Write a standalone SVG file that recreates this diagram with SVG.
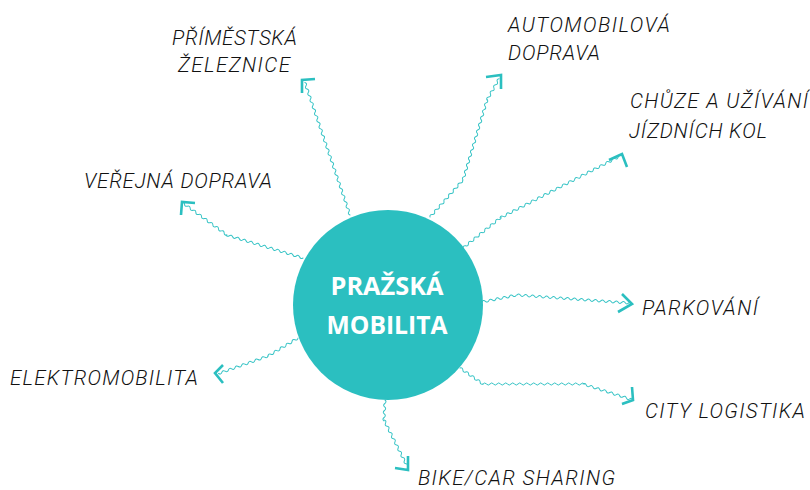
<svg xmlns="http://www.w3.org/2000/svg" width="810" height="490" viewBox="0 0 810 490">
<style>
.w{fill:none;stroke:#35c3c5;stroke-width:1;stroke-linecap:round}
.ah{fill:none;stroke:#2bbfc0;stroke-width:2.6;stroke-linecap:butt;stroke-linejoin:miter}
.lbl{font-family:"Roboto","Open Sans",sans-serif;font-style:italic;font-weight:300;font-size:20.5px;fill:#111111}
.ttl{font-family:"Open Sans","Noto Sans",sans-serif;font-weight:700;font-size:25px;fill:#ffffff;text-anchor:middle}
</style>
<rect width="810" height="490" fill="#ffffff"/>
<g id="connectors">
<path class="w" transform="translate(350,215) rotate(-108.8)" d="M0,0q1.75,-2.2 3.5,0t3.5,0 3.5,0 3.5,0 3.5,0 3.5,0 3.5,0 3.5,0 3.5,0 3.5,0 3.5,0 3.5,0 3.5,0 3.5,0 3.5,0 3.5,0 3.5,0 3.5,0 3.5,0 3.5,0 3.5,0 3.5,0 3.5,0 3.5,0 3.5,0 3.5,0 3.5,0 3.5,0 3.5,0 3.5,0 3.5,0 3.5,0 3.5,0 3.5,0 3.5,0 3.5,0 3.5,0 3.5,0 3.5,0 3.5,0"/>
<polyline class="ah" points="315,79 302,80 302,93"/>
<path class="w" transform="translate(430,217) rotate(-48.3)" d="M0,0q1.75,-2.2 3.5,0t3.5,0 3.5,0 3.5,0 3.5,0 3.5,0 3.5,0 3.5,0 3.5,0 3.5,0 3.5,0 3.5,0 3.5,0 3.5,0"/>
<path class="w" transform="translate(463,180) rotate(-73.3)" d="M0,0q1.75,-2.2 3.5,0t3.5,0 3.5,0 3.5,0 3.5,0 3.5,0 3.5,0 3.5,0 3.5,0 3.5,0 3.5,0 3.5,0 3.5,0 3.5,0 3.5,0 3.5,0 3.5,0 3.5,0 3.5,0 3.5,0 3.5,0 3.5,0 3.5,0 3.5,0"/>
<path class="w" transform="translate(487,100) rotate(-60.5)" d="M0,0q1.75,-2.2 3.5,0t3.5,0 3.5,0 3.5,0 3.5,0 3.5,0 3.5,0"/>
<polyline class="ah" points="486,77 501,75 501,89"/>
<path class="w" transform="translate(463,248) rotate(-39)" d="M0,0q1.75,-2.2 3.5,0t3.5,0 3.5,0 3.5,0 3.5,0 3.5,0 3.5,0 3.5,0 3.5,0 3.5,0 3.5,0 3.5,0 3.5,0 3.5,0"/>
<path class="w" transform="translate(500,218) rotate(-27.3)" d="M0,0q1.75,-2.2 3.5,0t3.5,0 3.5,0 3.5,0 3.5,0 3.5,0 3.5,0 3.5,0 3.5,0 3.5,0 3.5,0 3.5,0 3.5,0 3.5,0 3.5,0 3.5,0 3.5,0 3.5,0 3.5,0 3.5,0 3.5,0 3.5,0 3.5,0 3.5,0 3.5,0 3.5,0 3.5,0 3.5,0 3.5,0 3.5,0 3.5,0 3.5,0 3.5,0 3.5,0 3.5,0 3.5,0 3.5,0 3.5,0 3.5,0"/>
<polyline class="ah" points="609,160 622,154 627,167"/>
<path class="w" transform="translate(482,302) rotate(-11.3)" d="M0,0q1.75,-2.2 3.5,0t3.5,0 3.5,0 3.5,0 3.5,0 3.5,0 3.5,0 3.5,0 3.5,0 3.5,0"/>
<path class="w" transform="translate(517,295) rotate(4.05)" d="M0,0q1.75,-2.2 3.5,0t3.5,0 3.5,0 3.5,0 3.5,0 3.5,0 3.5,0 3.5,0 3.5,0 3.5,0 3.5,0 3.5,0 3.5,0 3.5,0 3.5,0 3.5,0 3.5,0 3.5,0 3.5,0 3.5,0 3.5,0 3.5,0 3.5,0 3.5,0 3.5,0 3.5,0 3.5,0 3.5,0 3.5,0 3.5,0 3.5,0 3.5,0"/>
<polyline class="ah" points="622,294 632,304 618,312"/>
<path class="w" transform="translate(460,368) rotate(34.8)" d="M0,0q1.75,-2.2 3.5,0t3.5,0 3.5,0 3.5,0 3.5,0 3.5,0 3.5,0 3.5,0"/>
<path class="w" transform="translate(483,384) rotate(0)" d="M0,0q1.75,-2.2 3.5,0t3.5,0 3.5,0 3.5,0 3.5,0 3.5,0 3.5,0 3.5,0 3.5,0 3.5,0 3.5,0 3.5,0 3.5,0 3.5,0 3.5,0 3.5,0 3.5,0 3.5,0 3.5,0 3.5,0 3.5,0 3.5,0 3.5,0 3.5,0 3.5,0 3.5,0 3.5,0 3.5,0 3.5,0"/>
<path class="w" transform="translate(583,384) rotate(17.7)" d="M0,0q1.75,-2.2 3.5,0t3.5,0 3.5,0 3.5,0 3.5,0 3.5,0 3.5,0 3.5,0 3.5,0 3.5,0 3.5,0 3.5,0 3.5,0 3.5,0 3.5,0"/>
<polyline class="ah" points="632,387 633,400 622,404"/>
<path class="w" transform="translate(385,400) rotate(92.9)" d="M0,0q1.75,-2.2 3.5,0t3.5,0 3.5,0 3.5,0 3.5,0 3.5,0"/>
<path class="w" transform="translate(384,420) rotate(63.4)" d="M0,0q1.75,-2.2 3.5,0t3.5,0 3.5,0 3.5,0 3.5,0 3.5,0 3.5,0 3.5,0 3.5,0 3.5,0 3.5,0 3.5,0 3.5,0 3.5,0 3.5,0"/>
<polyline class="ah" points="408,456 408,470 395,468"/>
<path class="w" transform="translate(298,338) rotate(149)" d="M0,0q1.75,-2.2 3.5,0t3.5,0 3.5,0 3.5,0 3.5,0 3.5,0 3.5,0 3.5,0 3.5,0 3.5,0"/>
<path class="w" transform="translate(268,356) rotate(160.5)" d="M0,0q1.75,-2.2 3.5,0t3.5,0 3.5,0 3.5,0 3.5,0 3.5,0 3.5,0 3.5,0 3.5,0 3.5,0 3.5,0 3.5,0 3.5,0 3.5,0 3.5,0"/>
<polyline class="ah" points="223,365 215,373 223,383"/>
<path class="w" transform="translate(303,258) rotate(-163.2)" d="M0,0q1.75,-2.2 3.5,0t3.5,0 3.5,0 3.5,0 3.5,0 3.5,0 3.5,0 3.5,0 3.5,0 3.5,0 3.5,0 3.5,0 3.5,0 3.5,0 3.5,0 3.5,0 3.5,0 3.5,0 3.5,0 3.5,0 3.5,0 3.5,0 3.5,0"/>
<path class="w" transform="translate(227,235) rotate(-144)" d="M0,0q1.75,-2.2 3.5,0t3.5,0 3.5,0 3.5,0 3.5,0 3.5,0 3.5,0 3.5,0 3.5,0 3.5,0 3.5,0 3.5,0 3.5,0 3.5,0 3.5,0 3.5,0"/>
<polyline class="ah" points="195,203 182,202 181,215"/>
</g>
<g id="center">
<circle cx="388" cy="305" r="95" fill="#2bbfc0"/>
<text class="ttl" x="387" y="295" textLength="113" lengthAdjust="spacingAndGlyphs">PRAŽSKÁ</text>
<text class="ttl" x="387" y="334" textLength="121" lengthAdjust="spacingAndGlyphs">MOBILITA</text>
</g>
<g id="primestska-zeleznice">
<text class="lbl" x="172" y="45" textLength="125" lengthAdjust="spacing">PŘÍMĚSTSKÁ</text>
<text class="lbl" x="178" y="72" textLength="112" lengthAdjust="spacing">ŽELEZNICE</text>
</g>
<g id="automobilova-doprava">
<text class="lbl" x="508" y="32" textLength="162" lengthAdjust="spacing">AUTOMOBILOVÁ</text>
<text class="lbl" x="508" y="60" textLength="92" lengthAdjust="spacing">DOPRAVA</text>
</g>
<g id="chuze">
<text class="lbl" x="630" y="108" textLength="178" lengthAdjust="spacing">CHŮZE A UŽÍVÁNÍ</text>
<text class="lbl" x="629" y="138" textLength="138" lengthAdjust="spacing">JÍZDNÍCH KOL</text>
</g>
<g id="parkovani">
<text class="lbl" x="642" y="315" textLength="116" lengthAdjust="spacing">PARKOVÁNÍ</text>
</g>
<g id="city-logistika">
<text class="lbl" x="645" y="418" textLength="160" lengthAdjust="spacing">CITY LOGISTIKA</text>
</g>
<g id="bike-car-sharing">
<text class="lbl" x="418" y="485" textLength="197" lengthAdjust="spacing">BIKE/CAR SHARING</text>
</g>
<g id="elektromobilita">
<text class="lbl" x="10" y="385" textLength="188" lengthAdjust="spacing">ELEKTROMOBILITA</text>
</g>
<g id="verejna-doprava">
<text class="lbl" x="84" y="188" textLength="188" lengthAdjust="spacing">VEŘEJNÁ DOPRAVA</text>
</g>
</svg>
